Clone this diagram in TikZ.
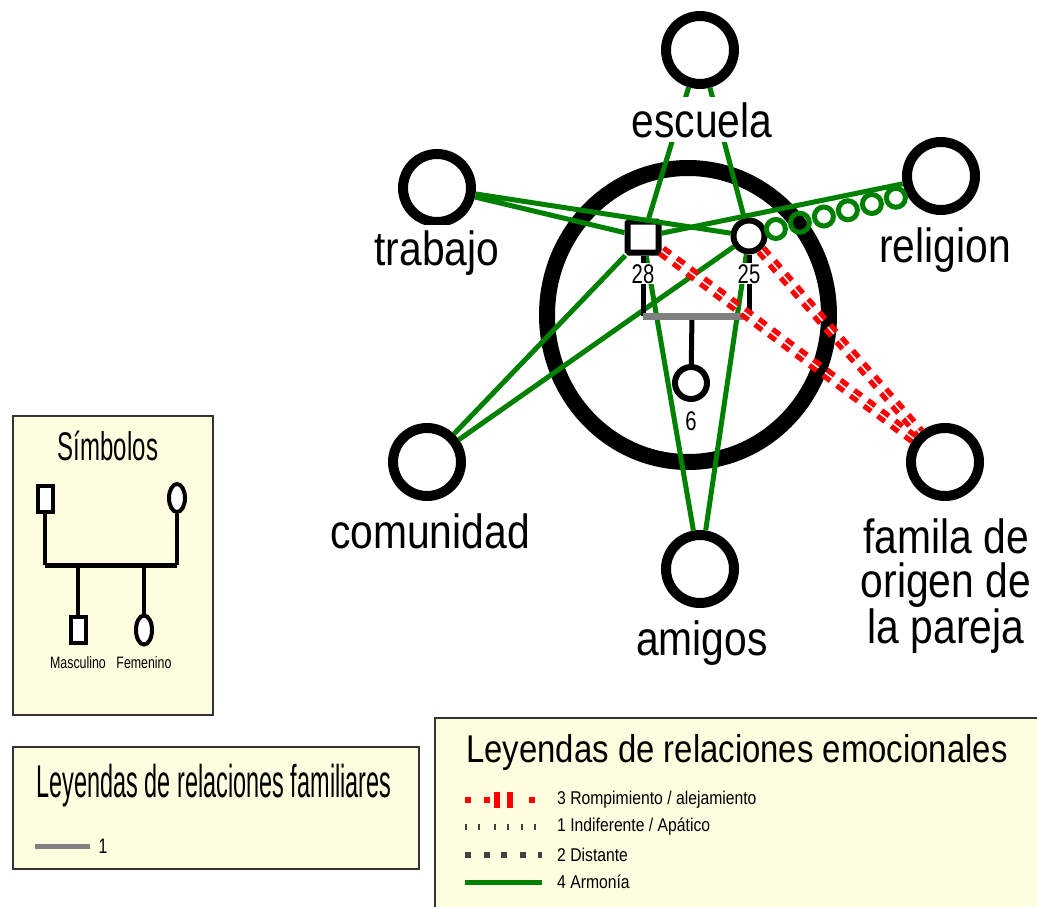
\documentclass[tikz,border=0pt]{standalone}
\usepackage{fontspec}
\setmainfont{Liberation Sans}
\newfontfamily\etiqfont[FakeStretch=0.85]{Liberation Sans}
\newfontfamily\numfont[FakeStretch=0.75]{Liberation Sans}
\newfontfamily\simbfont[FakeStretch=0.6]{Liberation Sans}
\newfontfamily\famfont[FakeStretch=0.51]{Liberation Sans}
\usepackage{tikz}
\usetikzlibrary{calc,shapes.geometric}
\definecolor{armonia}{HTML}{008000}
\definecolor{ruptura}{HTML}{FF0000}
\definecolor{legfondo}{HTML}{FFFDE0}
\definecolor{distante}{HTML}{404040}
\tikzset{
  sistema/.style={circle, draw, line width=10, minimum size=68, fill=white},
  rotulo/.style={font=\etiqfont\fontsize{48}{44}\selectfont, inner sep=5, fill=white, align=center},
  persona/.style={draw, line width=6, fill=white, inner sep=0, minimum size=31},
  edad/.style={font=\numfont\fontsize{27}{27}\selectfont, fill=white, inner sep=1},
  arm/.style={armonia, line width=5},
  rup/.style={ruptura, line width=12, dash pattern=on 9 off 8},
  ruphueco/.style={white, line width=1.5, dash pattern=on 9 off 8},
  caja/.style={draw=black!80, fill=legfondo, line width=1.5},
  lhombre/.style={draw, line width=4, fill=white, inner sep=0, minimum width=15, minimum height=26},
  lmujer/.style={ellipse, draw, line width=4, fill=white, inner sep=0, minimum width=16, minimum height=28},
  leyenda/.style={font=\etiqfont\fontsize{18.5}{20}\selectfont, anchor=west, inner sep=0},
}
\newcommand{\sysnode}[1]{node[sistema](#1) {}}

\begin{document}
\begin{tikzpicture}[x=1pt, y=-1pt]
\useasboundingbox (0,0) rectangle (1037,907);
% ecomapa
\draw[line width=16] (688,315) ellipse [x radius=141, y radius=147];
\draw (700,50) \sysnode{escuela};
\draw (437,188) \sysnode{trabajo};
\draw (941,176) \sysnode{religion};
\draw (427,462) \sysnode{comunidad};
\draw (700,569) \sysnode{amigos};
\draw (945,462) \sysnode{familia};
\draw (643,237) node[persona, rounded corners=1.5](padre) {};
\draw (749,236) node[persona, circle](madre) {};
\draw (691,383) node[persona, circle, minimum size=32](hija) {};

\draw[arm] (escuela) -- (padre) (escuela) -- (madre);
\draw[arm] (trabajo) -- (padre) (trabajo) -- (madre);
\draw[arm] (religion) -- (padre);
\draw[arm] (comunidad) -- (padre) (comunidad) -- (madre);
\draw[arm] (amigos) -- (padre) (amigos) -- (madre);
\foreach \t in {0.14,0.265,0.39,0.515,0.64,0.765}
  \draw[armonia, line width=5] ($(madre)!\t!([yshift=-10pt]religion.center)$) circle [radius=9.5];

% familia nuclear
\coordinate (union) at (692,316);
\draw[line width=5] (padre) -- (padre |- union);
\draw[line width=5] (madre) -- (madre |- union);
\draw[line width=5] (union) -- (hija);
\draw[gray, line width=7] (padre |- union) -- (madre |- union);

\draw[rup] (padre) -- (familia);
\draw[ruphueco] (padre) -- (familia);
\draw[rup] (madre) -- (familia);
\draw[ruphueco] (madre) -- (familia);

\draw (643,283) node[edad, anchor=base](e28) {28};
\draw (749,283) node[edad, anchor=base](e25) {25};
\draw (691,430) node[edad, anchor=base](e6) {6};

\draw (702,137) node[rotulo, anchor=base](tescuela) {escuela};
\draw (437,265) node[rotulo, anchor=base](ttrabajo) {trabajo};
\draw (945,262) node[rotulo, anchor=base](treligion) {religion};
\draw (430,548) node[rotulo, anchor=base](tcomunidad) {comunidad};
\draw (702,655) node[rotulo, anchor=base](tamigos) {amigos};
\draw (946,586) node[rotulo](tfamilia) {famila de\\origen de\\la pareja};

% simbolos
\draw[caja] (13,416) rectangle (213,715);
\draw (108,460) node[anchor=base, font=\simbfont\fontsize{40}{40}\selectfont](tsimbolos) {Símbolos};
\draw (45,499) node[lhombre](lpadre) {};
\draw (177,498) node[lmujer](lmadre) {};
\draw (78,630) node[lhombre](lhijo) {};
\draw (144,630) node[lmujer, minimum height=29](lhija) {};
\coordinate (lbarra) at (110,565);
\draw[line width=3.5] (lpadre) -- (lpadre |- lbarra);
\draw[line width=3.5] (lmadre) -- (lmadre |- lbarra);
\draw[line width=3.5] (lhijo) -- (lhijo |- lbarra);
\draw[line width=3.5] (lhija) -- (lhija |- lbarra);
\draw[line width=5] (lpadre |- lbarra) -- (lmadre |- lbarra);
\draw (78,668) node[anchor=base, font=\numfont\fontsize{16.5}{17}\selectfont](tmasc) {Masculino};
\draw (144,668) node[anchor=base, font=\numfont\fontsize{16.5}{17}\selectfont](tfem) {Femenino};

% relaciones familiares
\draw[caja] (13,747) rectangle (419,869);
\draw (214,797) node[anchor=base, font=\famfont\fontsize{46}{46}\selectfont](tfamiliares) {Leyendas de relaciones familiares};
\draw[gray, line width=5] (35,846) -- (90,846);
\draw (103,846) node[font=\numfont\fontsize{21}{21}\selectfont, inner sep=0](tuno) {1};

% relaciones emocionales
\draw[caja] (435,718) rectangle (1045,915);
\draw (737,762) node[anchor=base, font=\etiqfont\fontsize{38.7}{40}\selectfont](temocionales) {Leyendas de relaciones emocionales};
\foreach \x in {465,484,529} \fill[ruptura] (\x,797) rectangle ++(6,6);
\foreach \x in {494,507} \fill[ruptura] (\x,792) rectangle ++(6,16);
\foreach \x in {465,478,494,507,521,534} \fill[distante] (\x,824) rectangle ++(2,6);
\foreach \x in {465,484,501,520} \fill[distante] (\x,852) rectangle ++(6,6);
\fill[distante] (538,852) rectangle ++(4,6);
\draw[arm] (465,882) -- (542,882);
\draw (557,800) node[leyenda](trup) {3 Rompimiento / alejamiento};
\draw (557,827) node[leyenda](tind) {1 Indiferente / Apático};
\draw (557,855) node[leyenda](tdist) {2 Distante};
\draw (557,882) node[leyenda](tarm) {4 Armonía};
\end{tikzpicture}
\end{document}
